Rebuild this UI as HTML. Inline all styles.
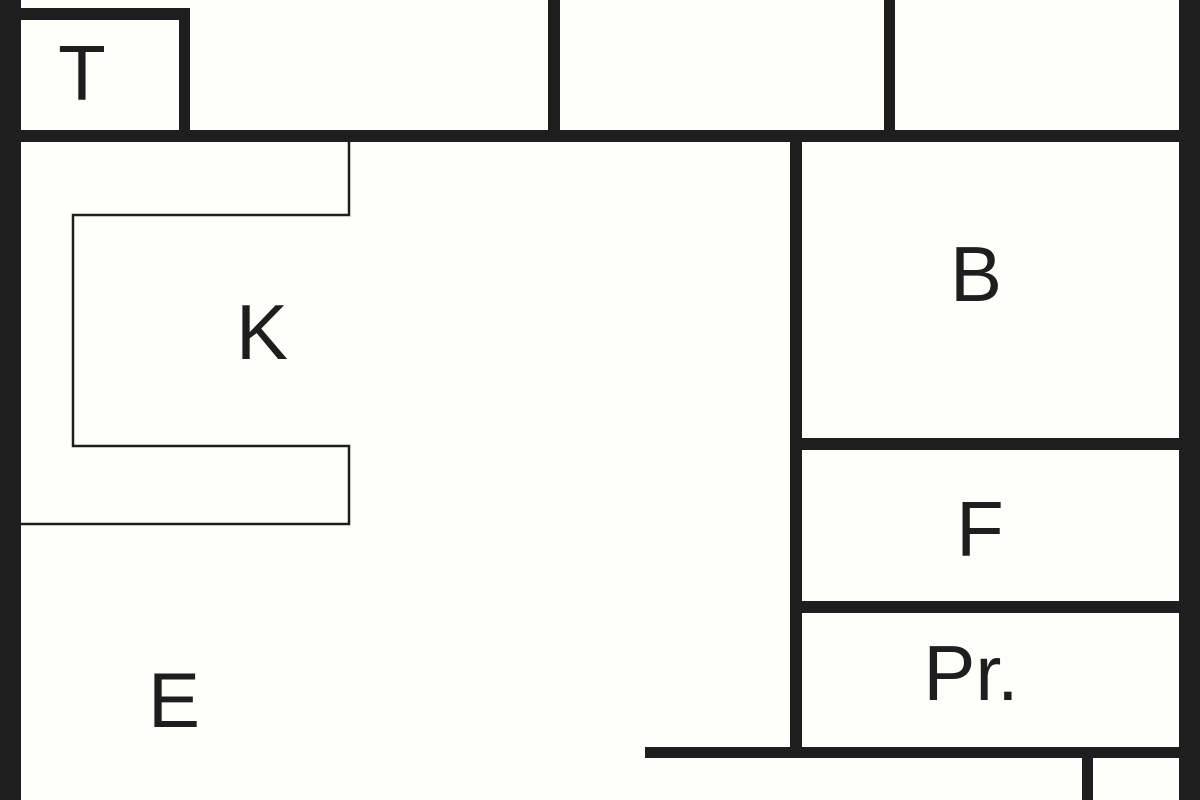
<!DOCTYPE html>
<html><head><meta charset="utf-8"><style>
html,body{margin:0;padding:0;background:#fefefa;}
svg{display:block;}
text{font-family:"Liberation Sans",sans-serif;font-size:78px;fill:#1e1e1e;text-anchor:middle;}
</style></head><body>
<svg width="1200" height="800" viewBox="0 0 1200 800">
<rect width="1200" height="800" fill="#fefefa"/>
<g fill="#1e1e1e">
<rect x="0" y="0" width="21" height="800"/>
<rect x="1179" y="0" width="21" height="800"/>
<rect x="0" y="130" width="1200" height="12"/>
<rect x="21" y="8" width="169" height="12"/>
<rect x="179" y="8" width="11" height="134"/>
<rect x="548" y="0" width="12" height="135"/>
<rect x="884" y="0" width="11" height="135"/>
<rect x="790" y="135" width="12" height="620"/>
<rect x="795" y="438" width="390" height="12"/>
<rect x="795" y="601" width="390" height="12"/>
<rect x="645" y="747" width="540" height="11"/>
<rect x="1082" y="750" width="11" height="50"/>
</g>
<polyline points="349,140 349,215 73,215 73,446 349,446 349,524 21,524" fill="none" stroke="#1e1e1e" stroke-width="2.5"/>
<text x="82" y="100">T</text>
<text x="262" y="359">K</text>
<text x="976" y="301">B</text>
<text x="980" y="556">F</text>
<text x="971" y="700">Pr.</text>
<text x="174" y="727">E</text>
</svg>
</body></html>
